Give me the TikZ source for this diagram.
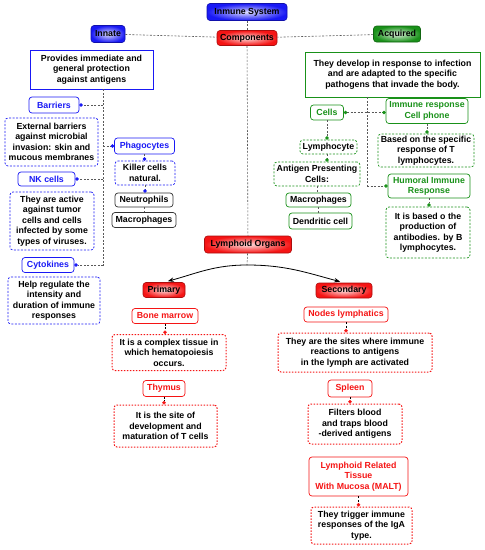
\documentclass[tikz,border=0pt]{standalone}
\usepackage{fontspec}
\setmainfont{Liberation Sans}
\usetikzlibrary{arrows.meta}
\definecolor{innblue}{RGB}{25,25,245}
\definecolor{acqgreen}{RGB}{25,145,25}
\definecolor{lymred}{RGB}{245,20,20}
\begin{document}
\begin{tikzpicture}[
      x=1pt, y=-1pt,
      every node/.style={font=\bfseries\fontsize{8.8}{10.5}\selectfont, align=center, inner sep=1pt},
      head/.style={draw=#1!70!black, rounded corners=3pt, inner color=#1!15, outer color=#1, line width=0.6pt},
      topic/.style={draw=#1, text=#1, rounded corners=3pt, line width=0.7pt},
      info/.style={draw=#1, rounded corners=3pt, line width=0.7pt, dash pattern=on 2pt off 1.5pt},
      lyminfo/.style={draw=lymred, rounded corners=3pt, line width=1pt, dash pattern=on 1.5pt off 1.5pt},
      plain/.style={draw=#1, line width=0.7pt},
      link/.style={draw=#1, dash pattern=on 2pt off 1.5pt, line width=0.6pt},
      link/.default=gray!70!black,
      dot/.style={-{Circle[length=3.5pt,color=#1]}},
      wh/.style 2 args={minimum width=#1, minimum height=#2},]
    \useasboundingbox (0,0) rectangle (485,550);
    \node[head=innblue, wh={80pt}{17pt}] (sys) at (247,12) {Inmune System};
    \node[head=lymred, wh={60pt}{15pt}] (comp) at (247,38) {Components};
    \node[head=innblue, wh={34pt}{17pt}] (innate) at (108,34) {Innate};
    \node[head=acqgreen, wh={47pt}{16pt}] (acq) at (397,34) {Acquired};
    % innate
    \node[plain=innblue, wh={123pt}{39pt}] (innatetxt) at (91.5,69.5) {Provides immediate and\\general protection\\against antigens};
    \node[topic=innblue, wh={50pt}{16pt}] (barr) at (54,105) {Barriers};
    \node[info=innblue, wh={93pt}{48pt}] (barrtxt) at (51.5,142) {External barriers\\against microbial\\invasion: skin and\\mucous membranes};
    \node[topic=innblue, wh={60pt}{16pt}] (phago) at (144.5,146) {Phagocytes};
    \node[info=innblue, wh={60pt}{24pt}] (killer) at (145,173) {Killer cells\\natural.};
    \node[topic=gray!40!black, text=black, wh={58pt}{14pt}] (neutro) at (144,200) {Neutrophils};
    \node[topic=gray!40!black, text=black, wh={64pt}{15pt}] (macroa) at (144,220) {Macrophages};
    \node[topic=innblue, wh={57pt}{14pt}] (nk) at (46.5,179) {NK cells};
    \node[info=innblue, wh={84pt}{58pt}] (nktxt) at (52,221) {They are active\\against tumor\\cells and cells\\infected by some\\types of viruses.};
    \node[topic=innblue, wh={52pt}{15pt}] (cyto) at (48,265) {Cytokines};
    \node[info=innblue, wh={92pt}{47pt}] (cytotxt) at (54,300.5) {Help regulate the\\intensity and\\duration of immune\\responses};
    % acquired
    \node[plain=acqgreen, wh={175pt}{45pt}] (acqtxt) at (392.5,74.5) {They develop in response to infection\\and are adapted to the specific\\pathogens that invade the body.};
    \node[topic=acqgreen, wh={33pt}{15pt}] (cells) at (327,112.5) {Cells};
    \node[topic=acqgreen, wh={82pt}{25pt}] (irc) at (427,111) {Immune response\\Cell phone};
    \node[info=acqgreen, wh={96pt}{33pt}] (irctxt) at (426,150.5) {Based on the specific\\response of T\\lymphocytes.};
    \node[topic=acqgreen, wh={82pt}{24pt}] (humoral) at (429,186) {Humoral Immune\\Response};
    \node[info=acqgreen, wh={84pt}{51pt}] (humtxt) at (428,232.5) {It is based o the\\production of\\antibodies. by B\\lymphocytes.};
    \node[info=acqgreen, text=black, wh={57pt}{14pt}] (lympho) at (328.5,147) {Lymphocyte};
    \node[info=acqgreen, wh={86pt}{24pt}] (apc) at (317,174) {Antigen Presenting\\Cells:};
    \node[topic=acqgreen, text=black, wh={65pt}{14pt}] (macrob) at (318.5,200) {Macrophages};
    \node[topic=acqgreen, text=black, wh={63pt}{16pt}] (dendr) at (320.5,221) {Dendritic cell};
    % lymphoid organs
    \node[head=lymred, wh={87pt}{17pt}] (lymph) at (248,244.5) {Lymphoid Organs};
    \node[head=lymred, wh={42pt}{15pt}] (prim) at (164,290) {Primary};
    \node[head=lymred, wh={56pt}{15pt}] (sec) at (344,290.5) {Secondary};
    \node[topic=lymred, wh={66pt}{15pt}] (bone) at (165,316) {Bone marrow};
    \node[lyminfo, wh={114pt}{36pt}] (bonetxt) at (169,352.5) {It is a complex tissue in\\which hematopoiesis\\occurs.};
    \node[topic=lymred, wh={42pt}{16pt}] (thym) at (164,388.5) {Thymus};
    \node[lyminfo, wh={103pt}{42pt}] (thymtxt) at (165.5,426) {It is the site of\\development and\\maturation of T cells};
    \node[topic=lymred, wh={84pt}{15pt}] (nodes) at (346,314.5) {Nodes lymphatics};
    \node[lyminfo, wh={154pt}{39pt}] (nodestxt) at (355,352.5) {They are the sites where immune\\reactions to antigens\\in the lymph are activated};
    \node[topic=lymred, wh={44pt}{17pt}] (spleen) at (350,388.5) {Spleen};
    \node[lyminfo, wh={94pt}{40pt}] (spleentxt) at (355,424) {Filters blood\\and traps blood\\-derived antigens};
    \node[topic=lymred, wh={99pt}{39pt}] (malt) at (358.5,476.5) {Lymphoid Related\\Tissue\\With Mucosa (MALT)};
    \node[lyminfo, wh={101pt}{37pt}] (malttxt) at (361.5,525.5) {They trigger immune\\responses of the IgA\\type.};
    \coordinate (innline) at (103,266);
    \coordinate (acqline) at (367,186);
    \coordinate (apex) at (247,265);
    % connectors
    \draw[link] (sys) -- (comp);
    \draw[link] (innate) -- (comp);
    \draw[link] (acq) -- (comp);
    \draw[link] (comp) -- (lymph);
    \draw[link] (innatetxt.south -| innline) -- (innline);
    \draw[link, dot=innblue] (barr.east -| innline) -- (barr.east);
    \draw[link, dot=innblue] (phago.west -| innline) -- (phago.west);
    \draw[link, dot=innblue] (nk.east -| innline) -- (nk.east);
    \draw[link, dot=innblue] (cyto.east -| innline) -- (cyto.east);
    \draw[link, dot=innblue] (phago) -- (phago |- killer.north);
    \draw[link, dot=innblue] (killer) -- (killer |- neutro.north);
    \draw[link] (neutro) -- (neutro |- macroa.north);
    \draw[link] (acqtxt.south -| acqline) -- (acqline);
    \draw[link, dot=acqgreen] (acqline) -- (humoral.west);
    \draw[link, {Circle[length=3.5pt,color=acqgreen]}-{Circle[length=3.5pt,color=acqgreen]}] (cells.east) -- (cells.east -| irc.west);
    \draw[link, dot=acqgreen] (cells) -- (cells |- lympho.north);
    \draw[link, dot=acqgreen] (lympho.south -| cells) -- (apc.north -| cells);
    \draw[link] (apc) -- (apc |- macrob.north);
    \draw[link] (macrob) -- (macrob |- dendr.north);
    \draw[link, dot=acqgreen] (irc) -- (irc |- irctxt.north);
    \draw[link, dot=acqgreen] (humoral) -- (humoral |- humtxt.north);
    \draw[link] (lymph) -- (apex);
    \draw[-{Stealth[length=6pt]}, line width=0.8pt, shorten >=4pt] (apex) to[out=180, in=15] (prim.north);
    \draw[-{Stealth[length=6pt]}, line width=0.8pt, shorten >=4pt] (apex) to[out=0, in=165] (sec.north);
    \draw[link=black, dot=lymred] (bone) -- (bone |- bonetxt.north);
    \draw[link=black, dot=lymred] (thym) -- (thym |- thymtxt.north);
    \draw[link=black, dot=lymred] (nodes) -- (nodes |- nodestxt.north);
    \draw[link=black, dot=lymred] (spleen) -- (spleen |- spleentxt.north);
    \draw[link=black, dot=lymred] (malt) -- (malt |- malttxt.north);
\end{tikzpicture}
\end{document}
